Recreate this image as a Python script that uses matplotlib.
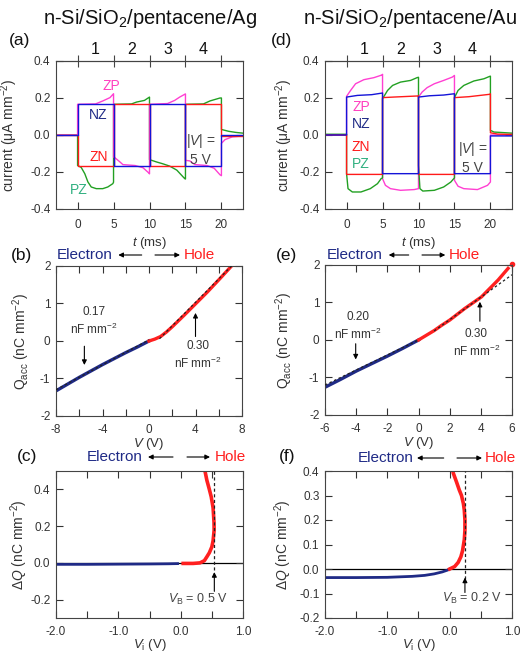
import matplotlib as mpl
mpl.use("Agg")
import matplotlib.pyplot as plt
import matplotlib.transforms as mtrans

plt.rcParams.update({"font.family": ["Liberation Sans", "DejaVu Sans"], "axes.unicode_minus": False,
                     "mathtext.fontset": "custom", "mathtext.rm": "Liberation Sans",
                     "mathtext.it": "Liberation Sans:italic", "mathtext.bf": "Liberation Sans:bold"})

# ---- data ----
# (a) n-Si/SiO2/pentacene/Ag transient currents (t in ms, I in uA mm^-2)
ag_zp_t = [-3, 0, 0, 2.5, 3.5, 4.5, 5.0, 5.0, 5.1, 5.9, 6.3, 8.0, 9.1, 9.9, 10.0, 10.0, 12.5, 13.5, 14.2, 14.9, 15.0, 15.0, 15.6, 16.3, 18.0, 19.0, 19.8, 20.0, 20.0, 20.5, 21.5, 23]
ag_zp_i = [0, 0, 0.166, 0.168, 0.184, 0.202, 0.223, -0.12, -0.12, -0.146, -0.16, -0.165, -0.177, -0.205, -0.21, 0.166, 0.17, 0.187, 0.205, 0.22, 0.222, -0.137, -0.14, -0.16, -0.165, -0.18, -0.215, -0.22, -0.045, -0.025, -0.01, -0.005]
ag_nz_t = [-3, 0, 0, 5, 5, 10, 10, 15, 15, 20, 20, 23]
ag_nz_i = [0, 0, 0.166, 0.166, -0.165, -0.165, 0.166, 0.166, -0.165, -0.165, 0.0, 0.0]
ag_zn_t = [-3, 0, 0, 5, 5, 10, 10, 15, 15, 20, 20, 23]
ag_zn_i = [0, 0, -0.165, -0.165, 0.166, 0.166, -0.165, -0.165, 0.166, 0.166, -0.004, -0.004]
ag_pz_t = [-3, 0, 0, 0.5, 1.0, 1.44, 1.9, 2.6, 3.5, 4.2, 4.9, 5.0, 5.0, 7.5, 8.2, 9.3, 10.0, 10.0, 11.0, 11.8, 12.8, 13.8, 14.9, 15.0, 15.0, 17.5, 18.4, 19.8, 20.0, 20.0, 21.0, 22.0, 23]
ag_pz_i = [0, 0, -0.165, -0.175, -0.209, -0.254, -0.281, -0.29, -0.29, -0.281, -0.263, -0.255, 0.166, 0.168, 0.178, 0.187, 0.205, -0.133, -0.146, -0.155, -0.168, -0.19, -0.236, -0.238, 0.166, 0.168, 0.184, 0.2, 0.2, 0.03, 0.02, 0.014, 0.01]

# (d) n-Si/SiO2/pentacene/Au transient currents
au_zp_t = [-3, 0, 0, 0.56, 1.25, 2.4, 3.8, 4.97, 5.0, 5.0, 5.4, 6.1, 7.5, 9.4, 10.0, 10.0, 10.5, 11.2, 12.2, 13.5, 14.7, 15.0, 15.0, 15.5, 16.3, 18.2, 19.6, 20.0, 20.0, 23]
au_zp_i = [0, 0, 0.209, 0.241, 0.277, 0.299, 0.31, 0.325, 0.328, -0.236, -0.272, -0.29, -0.299, -0.295, -0.29, 0.205, 0.232, 0.256, 0.277, 0.295, 0.313, 0.322, -0.245, -0.277, -0.29, -0.295, -0.272, -0.254, 0.0, 0.0]
au_nz_t = [-3, 0, 0, 1.5, 3.5, 5.0, 5.0, 10.0, 10.0, 11.5, 13.5, 15.0, 15.0, 20.0, 20.0, 23]
au_nz_i = [0, 0, 0.205, 0.214, 0.218, 0.227, -0.209, -0.209, 0.205, 0.212, 0.216, 0.223, -0.209, -0.209, -0.005, -0.005]
au_zn_t = [-3, 0, 0, 5, 5, 6.5, 9.9, 10, 10, 15, 15, 17, 19.9, 20, 20, 21, 23]
au_zn_i = [0, 0, -0.213, -0.213, 0.202, 0.205, 0.211, 0.212, -0.213, -0.213, 0.202, 0.207, 0.22, 0.223, 0.012, 0.005, 0.003]
au_pz_t = [-3, 0, 0, 0.2, 0.8, 2.0, 3.3, 4.3, 4.8, 5.0, 5.0, 5.7, 6.4, 7.5, 8.9, 9.8, 10.0, 10.0, 10.2, 10.6, 12.2, 13.5, 14.5, 14.9, 15.0, 15.0, 15.5, 16.3, 17.7, 19.1, 19.9, 20.0, 20.0, 20.5, 23]
au_pz_i = [0.004, 0.004, -0.209, -0.29, -0.308, -0.308, -0.29, -0.263, -0.236, -0.232, 0.196, 0.241, 0.268, 0.286, 0.295, 0.31, 0.312, -0.164, -0.29, -0.303, -0.299, -0.281, -0.254, -0.236, -0.232, 0.202, 0.241, 0.268, 0.292, 0.304, 0.317, 0.318, 0.025, 0.016, 0.01]

# (b) Ag accumulated charge vs V
ag_el_v = [-8, -6, -4, -2, -1, 0]
ag_el_q = [-1.33, -0.97, -0.63, -0.31, -0.16, 0.0]
ag_ho_v = [0, 0.5, 1.0, 1.5, 2.0, 3.0, 4.0, 5.0, 6.0, 7.1]
ag_ho_q = [0, 0.05, 0.12, 0.24, 0.38, 0.68, 0.99, 1.30, 1.63, 2.0]
ag_fit_el_v, ag_fit_el_q = [-8, 0], [-1.30, 0.03]
ag_fit_ho_v, ag_fit_ho_q = [0.9, 7.1], [0.06, 2.0]

# (e) Au accumulated charge vs V
au_el_v = [-6, -5, -4, -3, -2, -1, 0]
au_el_q = [-1.26, -1.05, -0.83, -0.63, -0.43, -0.22, 0.0]
au_ho_v = [0, 1.0, 1.48, 2.0, 2.97, 4.04, 5.11, 5.75]
au_ho_q = [0, 0.25, 0.39, 0.53, 0.84, 1.15, 1.6, 1.91]
au_ho_last = (6.0, 2.03)
au_fit_el_v, au_fit_el_q = [-6, 0], [-1.2, 0.0]
au_fit_ho_v, au_fit_ho_q = [1.0, 6.0], [0.24, 1.74]

# (c) Ag delta Q vs Vi
ag_dq_el_v = [-2.0, -1.5, -1.0, -0.5, -0.2, -0.05]
ag_dq_el_q = [-0.008, -0.008, -0.007, -0.006, -0.005, -0.004]
ag_dq_ho_v = [0.04, 0.2, 0.31, 0.38, 0.42, 0.46, 0.50, 0.52, 0.537, 0.535, 0.52, 0.49, 0.46, 0.42, 0.39]
ag_dq_ho_q = [-0.003, -0.003, 0.0, 0.012, 0.033, 0.055, 0.087, 0.12, 0.178, 0.22, 0.30, 0.36, 0.40, 0.45, 0.5]
ag_vb = 0.54

# (f) Au delta Q vs Vi
au_dq_el_v = [-2.0, -1.5, -1.0, -0.6, -0.4, -0.25, -0.12, -0.04, 0.0]
au_dq_el_q = [-0.035, -0.035, -0.034, -0.03, -0.026, -0.02, -0.012, -0.005, 0.0]
au_dq_ho_v = [0.0, 0.08, 0.137, 0.18, 0.207, 0.235, 0.245, 0.245, 0.235, 0.22, 0.19, 0.155, 0.11, 0.06]
au_dq_ho_q = [0.0, 0.01, 0.027, 0.05, 0.075, 0.12, 0.158, 0.2, 0.24, 0.267, 0.3, 0.322, 0.355, 0.39]
au_vb = 0.245

# ---- styling ----
W, H = 524, 653
C_MAG, C_GRN, C_RED, C_BLU = "#ff3fd2", "#22a022", "#ff1a1a", "#1414d8"
C_NAVY, C_DATRED, C_TXT = "#1f2a86", "#ff2020", "#333333"

fig = plt.figure(figsize=(W / 100, H / 100), dpi=100)

def box(x0, y0, x1, y1):
    return fig.add_axes([x0 / W, 1 - y1 / H, (x1 - x0) / W, (y1 - y0) / H])

def ftext(x, y, s, **kw):
    fig.text(x / W, 1 - y / H, s, **kw)

def farrow(x0, x1, y):
    fig.add_artist(mpl.patches.FancyArrowPatch((x0 / W, 1 - y / H), (x1 / W, 1 - y / H), transform=fig.transFigure,
                   arrowstyle="-|>", mutation_scale=7, lw=0.8, color="k", shrinkA=0, shrinkB=0))

def style(ax, xlim, ylim, xt, xl, yt, yl, xpad=5.5):
    ax.set_xlim(xlim); ax.set_ylim(ylim)
    ax.set_xticks(xt); ax.set_xticklabels(xl); ax.set_yticks(yt); ax.set_yticklabels(yl)
    ax.tick_params(top=True, right=True, direction="in", length=5, width=0.8, labelsize=8.5, colors=C_TXT)
    ax.tick_params(axis="x", pad=xpad)
    ax.tick_params(axis="y", pad=4)
    for s in ax.spines.values():
        s.set_color("#444444"); s.set_linewidth(0.8)

def labels(ax, xl, xy, yl, yx):
    ax.set_xlabel(xl, fontsize=9.5, color=C_TXT)
    ax.set_ylabel(yl, fontsize=10, color=C_TXT)
    ax.xaxis.set_label_coords(0.5, xy)
    ax.yaxis.set_label_coords(yx, 0.5)

def header(xe, xa0, xa1, xb0, xb1, xh, y):
    ftext(xe, y, "Electron", ha="right", va="center", fontsize=11, color=C_NAVY)
    farrow(xa0, xa1, y); farrow(xb0, xb1, y)
    ftext(xh, y, "Hole", ha="left", va="center", fontsize=11, color=C_DATRED)

def arrow(ax, x, y0, y1):
    ax.annotate("", xy=(x, y1), xytext=(x, y0), arrowprops=dict(arrowstyle="-|>", lw=0.8, color="k", mutation_scale=7, shrinkA=0, shrinkB=0))

# titles and panel letters
ftext(150, 19, "n-Si/SiO$_2$/pentacene/Ag", ha="center", va="center", fontsize=14.5, color="#111")
ftext(410, 19, "n-Si/SiO$_2$/pentacene/Au", ha="center", va="center", fontsize=14.5, color="#111")
for s, x, y in [("(a)", 9, 41), ("(b)", 11, 255), ("(c)", 17, 456), ("(d)", 271, 41), ("(e)", 276, 255), ("(f)", 279, 457)]:
    ftext(x, y, s, ha="left", va="center", fontsize=12.5, color="#111")

# ---- (a) and (d) ----
def transient(ax, traces, lbls, vtxt):
    for t, i, c in traces:
        ax.plot(t, i, color=c, lw=1.0)
    style(ax, (-3, 23), (-0.4, 0.4), [0, 5, 10, 15, 20], ["0", "5", "10", "15", "20"],
          [-0.4, -0.2, 0, 0.2, 0.4], ["-0.4", "-0.2", "0.0", "0.2", "0.4"], xpad=7.5)
    ax.tick_params(axis="x", top=False)
    sec = ax.secondary_xaxis("top")
    sec.set_xticks([0, 5, 10, 15, 20]); sec.set_xticklabels([])
    sec.tick_params(direction="inout", length=8, width=0.8, colors="#444444")
    sec.spines["top"].set_color("#444444"); sec.spines["top"].set_linewidth(0.8)
    tr = mtrans.blended_transform_factory(ax.transData, ax.transAxes)
    for k, x in enumerate([2.5, 7.5, 12.5, 17.5]):
        ax.text(x, 1.075, str(k + 1), transform=tr, ha="center", va="center", fontsize=11.5, color="#111")
    for s, x, y, c in lbls:
        ax.text(x, y, s, ha="center", va="center", fontsize=10, color=c)
    ax.text(vtxt[0], vtxt[1], "|$V$| =\n5 V", ha="center", va="center", fontsize=10, color="#444", linespacing=1.25)

ax_a = box(56, 61, 243, 209)
transient(ax_a, [(ag_pz_t, ag_pz_i, C_GRN), (ag_zp_t, ag_zp_i, C_MAG), (ag_zn_t, ag_zn_i, C_RED), (ag_nz_t, ag_nz_i, C_BLU)],
          [("ZP", 4.7, 0.263, "#ff40c0"), ("NZ", 2.9, 0.106, C_NAVY), ("ZN", 2.9, -0.119, C_RED), ("PZ", 0.2, -0.299, "#30b080")], (17.1, -0.078))
labels(ax_a, "$t$ (ms)", -0.175, "current (μA mm$^{-2}$)", -0.19)

ax_d = box(325, 61, 512, 209)
transient(ax_d, [(au_zp_t, au_zp_i, C_MAG), (au_pz_t, au_pz_i, C_GRN), (au_zn_t, au_zn_i, C_RED), (au_nz_t, au_nz_i, C_BLU)],
          [("ZP", 2.0, 0.151, "#ff40c0"), ("NZ", 2.0, 0.062, C_NAVY), ("ZN", 2.0, -0.065, C_RED), ("PZ", 2.0, -0.155, "#30b080")], (17.5, -0.123))
labels(ax_d, "$t$ (ms)", -0.175, "current (μA mm$^{-2}$)", -0.16)

# ---- (b) and (e) ----
def charge(ax, el, ho, fits, xlim, xt, xl):
    ax.plot(el[0], el[1], color=C_NAVY, lw=2.4)
    ax.plot(ho[0], ho[1], color=C_DATRED, lw=2.4)
    for fv, fq in fits:
        ax.plot(fv, fq, color="#222", lw=0.9, ls=(0, (2, 2)), zorder=3)
    style(ax, xlim, (-2, 2), xt, xl, [-2, -1, 0, 1, 2], ["-2", "-1", "0", "1", "2"])

ax_b = box(56, 266, 242, 416)
charge(ax_b, (ag_el_v, ag_el_q), (ag_ho_v, ag_ho_q), [(ag_fit_el_v, ag_fit_el_q), (ag_fit_ho_v, ag_fit_ho_q)],
       (-8, 8), list(range(-8, 9, 2)), ["-8", "", "-4", "", "0", "", "4", "", "8"])
labels(ax_b, "$V$ (V)", -0.133, "Q$_{\\rm acc}$ (nC mm$^{-2}$)", -0.129)
ax_b.text(-4.75, 0.53, "0.17\nnF mm$^{-2}$", ha="center", va="center", fontsize=8.5, color=C_TXT, linespacing=1.3)
ax_b.text(4.2, -0.39, "0.30\nnF mm$^{-2}$", ha="center", va="center", fontsize=8.5, color=C_TXT, linespacing=1.3)
arrow(ax_b, -5.56, -0.14, -0.64)
arrow(ax_b, 4.0, 0.12, 0.75)
header(113, 141.7, 118.3, 155, 180, 184, 255)

ax_e = box(325, 265, 512, 415)
charge(ax_e, (au_el_v, au_el_q), (au_ho_v, au_ho_q), [(au_fit_el_v, au_fit_el_q), (au_fit_ho_v, au_fit_ho_q)],
       (-6, 6), list(range(-6, 7, 2)), ["-6", "-4", "-2", "0", "2", "4", "6"])
ax_e.plot([au_ho_last[0]], [au_ho_last[1]], "o", ms=3, color=C_DATRED, clip_on=False)
labels(ax_e, "$V$ (V)", -0.133, "Q$_{\\rm acc}$ (nC mm$^{-2}$)", -0.16)
ax_e.text(-3.86, 0.35, "0.20\nnF mm$^{-2}$", ha="center", va="center", fontsize=8.5, color=C_TXT, linespacing=1.3)
ax_e.text(3.72, -0.1, "0.30\nnF mm$^{-2}$", ha="center", va="center", fontsize=8.5, color=C_TXT, linespacing=1.3)
arrow(ax_e, -4.03, -0.10, -0.52)
arrow(ax_e, 3.94, 0.5, 1.02)
header(382.7, 408.7, 388.7, 422, 445.3, 448.7, 255)

# ---- (c) and (f) ----
def dq(ax, el, ho, vb, ylim, yt, yl, arr, txt):
    ax.axhline(0, color="k", lw=0.9, zorder=1)
    ax.plot(el[0], el[1], color=C_NAVY, lw=2.0)
    ax.plot(ho[0], ho[1], color=C_DATRED, lw=2.6)
    ax.plot([vb, vb], [-0.04, ylim[1]], color="#222", lw=0.9, ls=(0, (2.5, 2)), zorder=3)
    style(ax, (-2, 1), ylim, [-2, -1.5, -1, -0.5, 0, 0.5, 1], ["-2.0", "", "-1.0", "", "0.0", "", "1.0"], yt, yl)
    arrow(ax, vb, arr[0], arr[1])
    ax.text(txt[0], txt[1], txt[2], ha="center", va="center", fontsize=9, color="#444")

ax_c = box(56, 471, 243, 618)
dq(ax_c, (ag_dq_el_v, ag_dq_el_q), (ag_dq_ho_v, ag_dq_ho_q), ag_vb, (-0.3, 0.5),
   [-0.2, 0, 0.2, 0.4], ["-0.2", "0.0", "0.2", "0.4"], (-0.155, -0.05), (0.28, -0.2, "$V_{\\rm B}$ = 0.5 V"))
labels(ax_c, "$V_{\\rm i}$ (V)", -0.128, "Δ$Q$ (nC mm$^{-2}$)", -0.139)
header(143, 173, 148, 187, 210, 215, 457)

ax_f = box(325, 471, 512, 618)
dq(ax_f, (au_dq_el_v, au_dq_el_q), (au_dq_ho_v, au_dq_ho_q), au_vb, (-0.2, 0.4),
   [-0.2, -0.1, 0, 0.1, 0.2, 0.3, 0.4], ["-0.2", "-0.1", "0.0", "0.1", "0.2", "0.3", "0.4"], (-0.096, -0.035), (0.36, -0.122, "$V_{\\rm B}$ = 0.2 V"))
labels(ax_f, "$V_{\\rm i}$ (V)", -0.128, "Δ$Q$ (nC mm$^{-2}$)", -0.166)
header(413.7, 443.7, 417, 457, 482, 484.7, 458)

fig.savefig("out.png", dpi=100)
plt.close(fig)
